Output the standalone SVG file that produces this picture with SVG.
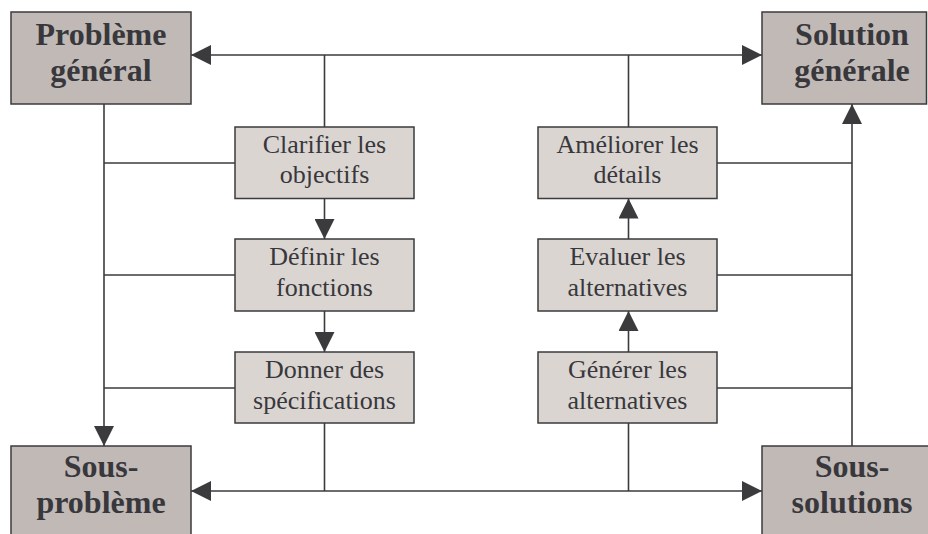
<svg xmlns="http://www.w3.org/2000/svg" width="928" height="534" viewBox="0 0 928 534">
  <style>
    .main rect { fill: #c1b9b6; stroke: #3b3b3e; stroke-width: 1.5; }
    .main text { font-family: "Liberation Serif", "Times New Roman", serif; font-weight: bold; font-size: 32px; fill: #38383c; text-anchor: middle; }
    .step rect { fill: #dbd5d2; stroke: #3b3b3e; stroke-width: 1.5; }
    .step text { font-family: "Liberation Serif", "Times New Roman", serif; font-size: 26px; fill: #38383c; text-anchor: middle; }
    .wire { fill: none; stroke: #3b3b3e; stroke-width: 1.6; }
  </style>
  <defs>
    <marker id="head" markerUnits="userSpaceOnUse" markerWidth="20" markerHeight="20" refX="20" refY="10" orient="auto-start-reverse">
      <path d="M0,0 L20,10 L0,20 Z" fill="#3b3b3e"/>
    </marker>
  </defs>
  <rect width="928" height="534" fill="#ffffff"/>

  <!-- connectors -->
  <g id="connectors" class="wire">
    <!-- top and bottom links between the corner boxes -->
    <line x1="191" y1="55" x2="762" y2="55" marker-start="url(#head)" marker-end="url(#head)"/>
    <line x1="191" y1="491" x2="762" y2="491" marker-start="url(#head)" marker-end="url(#head)"/>
    <line x1="324.5" y1="55" x2="324.5" y2="127"/>
    <line x1="628.5" y1="55" x2="628.5" y2="127"/>
    <line x1="324.5" y1="423" x2="324.5" y2="491"/>
    <line x1="628.5" y1="423" x2="628.5" y2="491"/>
    <!-- left spine -->
    <line x1="104" y1="104" x2="104" y2="446" marker-end="url(#head)"/>
    <line x1="104" y1="163" x2="235" y2="163"/>
    <line x1="104" y1="275" x2="235" y2="275"/>
    <line x1="104" y1="388" x2="235" y2="388"/>
    <!-- right spine -->
    <line x1="852" y1="446" x2="852" y2="104" marker-end="url(#head)"/>
    <line x1="717" y1="163" x2="852" y2="163"/>
    <line x1="717" y1="275" x2="852" y2="275"/>
    <line x1="717" y1="388" x2="852" y2="388"/>
    <!-- step chains -->
    <line x1="324.5" y1="198.5" x2="324.5" y2="239" marker-end="url(#head)"/>
    <line x1="324.5" y1="311" x2="324.5" y2="352" marker-end="url(#head)"/>
    <line x1="628.5" y1="239" x2="628.5" y2="198.5" marker-end="url(#head)"/>
    <line x1="628.5" y1="352" x2="628.5" y2="311" marker-end="url(#head)"/>
  </g>

  <!-- corner boxes -->
  <g id="probleme-general" class="main">
    <rect x="11" y="12" width="180" height="92"/>
    <text x="101" y="45">Problème</text>
    <text x="101" y="81">général</text>
  </g>
  <g id="solution-generale" class="main">
    <rect x="762" y="12" width="164.5" height="92"/>
    <text x="852" y="45">Solution</text>
    <text x="852" y="81">générale</text>
  </g>
  <g id="sous-probleme" class="main">
    <rect x="11" y="446" width="180" height="100"/>
    <text x="101" y="477">Sous-</text>
    <text x="101" y="513">problème</text>
  </g>
  <g id="sous-solutions" class="main">
    <rect x="762" y="446" width="180" height="100"/>
    <text x="852" y="477">Sous-</text>
    <text x="852" y="513">solutions</text>
  </g>

  <!-- left steps -->
  <g id="clarifier" class="step">
    <rect x="235" y="127" width="179" height="71.5"/>
    <text x="324.5" y="153">Clarifier les</text>
    <text x="324.5" y="183">objectifs</text>
  </g>
  <g id="definir" class="step">
    <rect x="235" y="239" width="179" height="72"/>
    <text x="324.5" y="265">Définir les</text>
    <text x="324.5" y="296">fonctions</text>
  </g>
  <g id="donner" class="step">
    <rect x="235" y="352" width="179" height="71"/>
    <text x="324.5" y="378">Donner des</text>
    <text x="324.5" y="409">spécifications</text>
  </g>

  <!-- right steps -->
  <g id="ameliorer" class="step">
    <rect x="538" y="127" width="179" height="71.5"/>
    <text x="627.5" y="153">Améliorer les</text>
    <text x="627.5" y="183">détails</text>
  </g>
  <g id="evaluer" class="step">
    <rect x="538" y="239" width="179" height="72"/>
    <text x="627.5" y="265">Evaluer les</text>
    <text x="627.5" y="296">alternatives</text>
  </g>
  <g id="generer" class="step">
    <rect x="538" y="352" width="179" height="71"/>
    <text x="627.5" y="378">Générer les</text>
    <text x="627.5" y="409">alternatives</text>
  </g>
</svg>
